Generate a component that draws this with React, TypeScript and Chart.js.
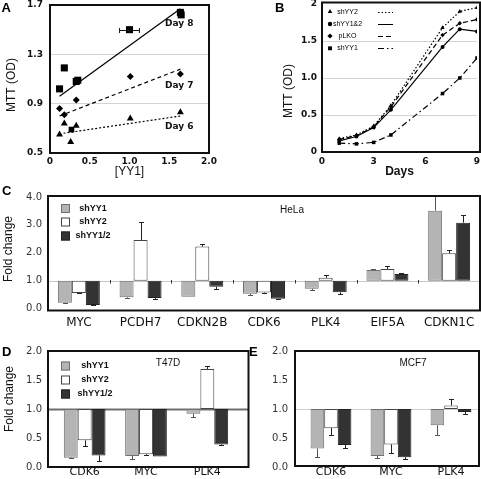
import React, { useEffect, useRef } from "react";
import { Chart, registerables } from "chart.js";
Chart.register(...registerables);

// ===== Panel A: MTT vs [YY1] =====
const aDay8X = [0.12, 0.18, 0.33, 0.35, 1.0, 1.64, 1.65];
const aDay8Y = [1.02, 1.19, 1.08, 1.09, 1.5, 1.64, 1.62];
const aDay8XErr = [0, 0, 0, 0, 0.125, 0, 0];
const aDay7X = [0.12, 0.18, 0.33, 1.01, 1.64];
const aDay7Y = [0.86, 0.81, 0.93, 1.12, 1.14];
const aDay6X = [0.12, 0.18, 0.26, 0.27, 0.33, 1.01, 1.64];
const aDay6Y = [0.65, 0.74, 0.59, 0.69, 0.72, 0.78, 0.83];
const aFitX = [0.12, 1.64];
const aFit8Y = [0.96, 1.67];
const aFit7Y = [0.8, 1.18];
const aFit6X = [0.17, 1.64];
const aFit6Y = [0.66, 0.8];
const aYTicks = [0.5, 0.9, 1.3, 1.7];
const aXTicks = [0, 0.5, 1.0, 1.5, 2.0];

// ===== Panel B: growth curves =====
const bDays = [1, 2, 3, 4, 7, 8, 9];
const bShYY2 = [0.18, 0.23, 0.35, 0.63, 1.68, 1.9, 1.95];
const bShYY12 = [0.15, 0.21, 0.33, 0.57, 1.42, 1.66, 1.63];
const bPLKO = [0.17, 0.22, 0.34, 0.61, 1.58, 1.74, 1.79];
const bShYY1 = [0.12, 0.11, 0.13, 0.23, 0.79, 1.0, 1.27];

// ===== Panel C: HeLa =====
const cGenes = ["MYC", "PCDH7", "CDKN2B", "CDK6", "PLK4", "EIF5A", "CDKN1C"];
const cShYY1 = [0.21, 0.4, 0.42, 0.53, 0.71, 1.38, 3.51];
const cShYY1Err = [0.02, 0.01, 0, 0.03, 0.04, 0.02, 0.6];
const cShYY2 = [0.56, 2.46, 2.22, 0.57, 1.1, 1.42, 1.98];
const cShYY2Err = [0.02, 0.64, 0.09, 0.02, 0.09, 0.09, 0.12];
const cShYY12 = [0.13, 0.38, 0.78, 0.35, 0.58, 1.24, 3.08];
const cShYY12Err = [0.02, 0.03, 0.08, 0.02, 0.07, 0.04, 0.26];

// ===== Panel D: T47D =====
const dGenes = ["CDK6", "MYC", "PLK4"];
const dShYY1 = [0.16, 0.19, 0.92];
const dShYY1Err = [0.01, 0.06, 0.05];
const dShYY2 = [0.46, 0.22, 1.69];
const dShYY2Err = [0.09, 0.02, 0.06];
const dShYY12 = [0.2, 0.18, 0.39];
const dShYY12Err = [0.1, 0, 0.01];

// ===== Panel E: MCF7 =====
const eGenes = ["CDK6", "MYC", "PLK4"];
const eShYY1 = [0.32, 0.19, 0.72];
const eShYY1Err = [0.14, 0.03, 0.17];
const eShYY2 = [0.67, 0.39, 1.06];
const eShYY2Err = [0.12, 0.15, 0.11];
const eShYY12 = [0.38, 0.17, 0.95];
const eShYY12Err = [0.05, 0.04, 0.03];

const pts = (xs: number[], ys: number[]) => xs.map((x, i) => ({ x, y: ys[i] }));

function drawMarker(ctx: CanvasRenderingContext2D, style: string, x: number, y: number, r: number) {
  ctx.beginPath();
  if (style === "triangle") {
    ctx.moveTo(x, y - r);
    ctx.lineTo(x + r * 0.87, y + r * 0.5);
    ctx.lineTo(x - r * 0.87, y + r * 0.5);
    ctx.closePath();
  } else if (style === "circle") {
    ctx.arc(x, y, r * 0.85, 0, Math.PI * 2);
  } else if (style === "rectRot") {
    ctx.moveTo(x, y - r);
    ctx.lineTo(x + r, y);
    ctx.lineTo(x, y + r);
    ctx.lineTo(x - r, y);
    ctx.closePath();
  } else {
    ctx.rect(x - r * 0.75, y - r * 0.75, r * 1.5, r * 1.5);
  }
  ctx.fill();
}

function frameOf(o: any, ca: any) {
  const f = o.frame || {};
  return {
    x0: ca.left + (f.l || 0),
    x1: ca.right + (f.r || 0),
    y0: ca.top + (f.t || 0),
    y1: ca.bottom + (f.b || 0),
  };
}

const decoPlugin = {
  id: "deco",
  beforeDatasetsDraw(chart: any, _a: any, o: any) {
    if (!o || !o.refLine) return;
    const { ctx, chartArea: ca } = chart;
    const f = frameOf(o, ca);
    const y = Math.round(chart.scales.y.getPixelForValue(o.refLine.value)) + 0.5;
    ctx.save();
    ctx.strokeStyle = o.refLine.color;
    ctx.lineWidth = o.refLine.width;
    ctx.beginPath();
    ctx.moveTo(f.x0, y);
    ctx.lineTo(f.x1, y);
    ctx.stroke();
    if (o.refLine.ticks) {
      const xs = chart.scales.x;
      const n = chart.data.labels.length;
      ctx.strokeStyle = "#333";
      ctx.lineWidth = 1;
      for (let i = 1; i < n; i++) {
        const x = Math.round((xs.getPixelForTick(i - 1) + xs.getPixelForTick(i)) / 2) + 0.5;
        ctx.beginPath();
        ctx.moveTo(x, y - 1.5);
        ctx.lineTo(x, y + 2);
        ctx.stroke();
      }
    }
    ctx.restore();
  },
  afterDatasetsDraw(chart: any, _a: any, o: any) {
    if (!o || !o.errors) return;
    const { ctx, chartArea: ca } = chart;
    const f = frameOf(o, ca);
    ctx.save();
    ctx.beginPath();
    ctx.rect(f.x0, f.y0, f.x1 - f.x0, f.y1 - f.y0);
    ctx.clip();
    chart.data.datasets.forEach((ds: any, di: number) => {
      const meta = chart.getDatasetMeta(di);
      ctx.strokeStyle = ds.errColor || "#222";
      ctx.lineWidth = 1;
      if (ds.errors) {
        const ys = chart.scales.y;
        meta.data.forEach((el: any, i: number) => {
          const v = ds.values[i];
          const e = ds.errors[i];
          if (!e) return;
          const x = Math.round(el.x) + 0.5;
          const y0 = ys.getPixelForValue(v);
          const y1 = Math.round(ys.getPixelForValue(v >= 1 ? v + e : v - e)) + 0.5;
          ctx.beginPath();
          ctx.moveTo(x, y0);
          ctx.lineTo(x, y1);
          ctx.moveTo(x - 2.5, y1);
          ctx.lineTo(x + 2.5, y1);
          ctx.stroke();
        });
      }
      if (ds.xErrors) {
        const xs = chart.scales.x;
        meta.data.forEach((el: any, i: number) => {
          const e = ds.xErrors[i];
          if (!e) return;
          const p = ds.data[i];
          const x0 = xs.getPixelForValue(p.x - e);
          const x1 = xs.getPixelForValue(p.x + e);
          const y = Math.round(el.y) + 0.5;
          ctx.beginPath();
          ctx.moveTo(x0, y);
          ctx.lineTo(x1, y);
          ctx.moveTo(x0, y - 2.5);
          ctx.lineTo(x0, y + 2.5);
          ctx.moveTo(x1, y - 2.5);
          ctx.lineTo(x1, y + 2.5);
          ctx.stroke();
        });
      }
    });
    ctx.restore();
  },
  afterDraw(chart: any, _a: any, o: any) {
    if (!o) return;
    const { ctx, chartArea: ca } = chart;
    ctx.save();
    if (o.frame) {
      const f = frameOf(o, ca);
      ctx.strokeStyle = "#111";
      ctx.lineWidth = 2;
      ctx.strokeRect(f.x0, f.y0, f.x1 - f.x0, f.y1 - f.y0);
    }
    if (o.vTitle) {
      const t = o.vTitle;
      ctx.save();
      ctx.translate(t.x, t.y);
      ctx.rotate(-Math.PI / 2);
      ctx.font = t.font;
      ctx.fillStyle = "#111";
      ctx.textAlign = "center";
      ctx.textBaseline = "middle";
      ctx.fillText(t.text, 0, 0);
      ctx.restore();
    }
    if (o.texts) {
      o.texts.forEach((t: any) => {
        ctx.font = t.font;
        ctx.fillStyle = "#111";
        ctx.textAlign = t.align || "left";
        ctx.textBaseline = "middle";
        ctx.fillText(t.text, t.x, t.y);
      });
    }
    if (o.boxLegend) {
      const L = o.boxLegend;
      chart.data.datasets.forEach((ds: any, i: number) => {
        const y = L.ys[i];
        ctx.fillStyle = ds.backgroundColor;
        ctx.fillRect(L.x, y - L.size / 2, L.size, L.size);
        ctx.strokeStyle = ds.borderColor;
        ctx.lineWidth = 1;
        ctx.strokeRect(L.x + 0.5, y - L.size / 2 + 0.5, L.size - 1, L.size - 1);
        ctx.fillStyle = "#111";
        ctx.font = L.font;
        ctx.textAlign = "center";
        ctx.textBaseline = "middle";
        ctx.fillText(ds.label, L.textX, y);
      });
    }
    if (o.lineLegend) {
      const L = o.lineLegend;
      chart.data.datasets.forEach((ds: any, i: number) => {
        const y = L.ys[i];
        ctx.fillStyle = "#000";
        drawMarker(ctx, ds.pointStyle, L.markerX, y, 2.6);
        ctx.font = L.font;
        ctx.textAlign = "center";
        ctx.textBaseline = "middle";
        ctx.fillText(ds.label, L.textX, y);
        ctx.strokeStyle = "#000";
        ctx.lineWidth = 1;
        ctx.setLineDash(ds.borderDash || []);
        ctx.beginPath();
        ctx.moveTo(L.lineX0, Math.round(y) + 0.5);
        ctx.lineTo(L.lineX1, Math.round(y) + 0.5);
        ctx.stroke();
        ctx.setLineDash([]);
      });
    }
    ctx.restore();
  },
};
Chart.register(decoPlugin as any);

const TICK_BOLD = { family: "DejaVu Sans", weight: "bold" as const, size: 9 };
const TICK_NORM = { family: "DejaVu Sans", size: 10 };
const TITLE_FONT = { family: "Liberation Sans", size: 12 };
const TITLE_CSS = "12px 'Liberation Sans'";
const GRAY = "#b4b4b4";
const WHITE = "#ffffff";
const DARK = "#333333";

const fmt1 = (v: any) => Number(v).toFixed(1);

const noPad = (s: any) => {
  s.paddingTop = 0;
  s.paddingBottom = 0;
  s.paddingLeft = 0;
  s.paddingRight = 0;
};
const fixH = (h: number) => (s: any) => {
  s.height = h;
  noPad(s);
};
const fixW = (w: number) => (s: any) => {
  s.width = w;
  noPad(s);
};

function makeA(): any {
  const base = { backgroundColor: "#000", borderColor: "#000", borderWidth: 0, errColor: "#111" };
  const fit = (xs: number[], ys: number[], dash: number[]) => ({
    type: "line",
    data: pts(xs, ys),
    showLine: true,
    pointRadius: 0,
    borderColor: "#000",
    borderWidth: 1.2,
    borderDash: dash,
    fill: false,
  });
  return {
    type: "scatter",
    data: {
      datasets: [
        { ...base, data: pts(aDay8X, aDay8Y), xErrors: aDay8XErr, pointStyle: "rect", pointRadius: 5 },
        { ...base, data: pts(aDay7X, aDay7Y), pointStyle: "rectRot", pointRadius: 3.5 },
        {
          ...base,
          data: pts(aDay6X, aDay6Y),
          pointStyle: ["triangle", "triangle", "triangle", "rect", "triangle", "triangle", "triangle"],
          pointRadius: 4,
        },
        fit(aFitX, aFit8Y, []),
        fit(aFitX, aFit7Y, [4, 3]),
        fit(aFit6X, aFit6Y, [2, 2]),
      ],
    },
    options: {
      responsive: false,
      animation: false,
      events: [],
      layout: { padding: { top: 3, right: 31, left: 0, bottom: 0 } },
      plugins: {
        legend: { display: false },
        tooltip: { enabled: false },
        deco: {
          frame: { l: 0, r: 0, t: 0, b: 0 },
          errors: true,
          vTitle: { text: "MTT (OD)", x: 12, y: 85, font: TITLE_CSS },
          texts: [
            { text: "Day 8", x: 165, y: 24, font: "bold 9px 'DejaVu Sans'" },
            { text: "Day 7", x: 165, y: 86, font: "bold 9px 'DejaVu Sans'" },
            { text: "Day 6", x: 165, y: 127, font: "bold 9px 'DejaVu Sans'" },
          ],
        },
      },
      scales: {
        x: {
          type: "linear",
          min: 0,
          max: 2,
          afterBuildTicks: (s: any) => {
            s.ticks = aXTicks.map((v) => ({ value: v }));
          },
          ticks: { font: TICK_BOLD, color: "#111", padding: 3, callback: (v: any) => (v === 0 ? "0" : fmt1(v)) },
          grid: { display: false, drawTicks: false },
          border: { display: false },
          title: { display: true, text: "[YY1]", font: TITLE_FONT, color: "#111", padding: { top: 0, bottom: 6 } },
          afterFit: fixH(32),
        },
        y: {
          min: 0.5,
          max: 1.7,
          afterBuildTicks: (s: any) => {
            s.ticks = aYTicks.map((v) => ({ value: v }));
          },
          ticks: { font: TICK_BOLD, color: "#111", padding: 7, callback: fmt1 },
          grid: {
            drawTicks: false,
            color: (c: any) => (c.tick && (c.tick.value === 0.9 || c.tick.value === 1.3) ? "#d4d4d4" : "rgba(0,0,0,0)"),
          },
          border: { display: false },
          afterFit: fixW(50),
        },
      },
    },
  };
}

function makeB(): any {
  const mk = (label: string, vals: number[], style: string, dash: number[], r: number) => ({
    label,
    data: pts(bDays, vals),
    pointStyle: style,
    pointRadius: r,
    backgroundColor: "#000",
    borderColor: "#000",
    pointBorderWidth: 0,
    borderWidth: 1.2,
    borderDash: dash,
    tension: 0,
    fill: false,
  });
  return {
    type: "line",
    data: {
      datasets: [
        mk("shYY2", bShYY2, "triangle", [1.5, 2], 2.5),
        mk("shYY1&2", bShYY12, "circle", [], 2),
        mk("pLKO", bPLKO, "rectRot", [5, 3], 2.2),
        mk("shYY1", bShYY1, "rect", [6, 3, 1.5, 3], 2.5),
      ],
    },
    options: {
      responsive: false,
      animation: false,
      events: [],
      layout: { padding: { top: 3, right: 4, left: 0, bottom: 0 } },
      plugins: {
        legend: { display: false },
        tooltip: { enabled: false },
        deco: {
          frame: { l: 0, r: 3, t: -1.5, b: 0 },
          vTitle: { text: "MTT (OD)", x: 49, y: 91, font: TITLE_CSS },
          lineLegend: {
            markerX: 90,
            textX: 107.5,
            lineX0: 138,
            lineX1: 153,
            ys: [11.7, 24, 36, 48.3],
            font: "7px 'Liberation Sans'",
          },
        },
      },
      scales: {
        x: {
          type: "linear",
          min: 0,
          max: 9,
          ticks: { stepSize: 3, font: TICK_BOLD, color: "#111", padding: 4 },
          grid: { display: false, drawTicks: false },
          border: { display: false },
          title: {
            display: true,
            text: "Days",
            font: { family: "Liberation Sans", size: 12, weight: "bold" },
            color: "#111",
            padding: { top: 0, bottom: 6 },
          },
          afterFit: fixH(33),
        },
        y: {
          min: 0,
          max: 2,
          ticks: {
            stepSize: 0.5,
            font: TICK_BOLD,
            color: "#111",
            padding: 5,
            callback: (v: any) => (v === 0 ? "0" : v === 2 ? "2" : fmt1(v)),
          },
          grid: {
            drawTicks: false,
            color: (c: any) =>
              c.tick && c.tick.value > 0.1 && c.tick.value < 1.9 ? "#d4d4d4" : "rgba(0,0,0,0)",
          },
          border: { display: false },
          afterFit: fixW(82),
        },
      },
    },
  };
}

function makeBars(p: any): any {
  const mk = (label: string, vals: number[], errs: number[], bg: string, bc: string, ec: string) => ({
    label,
    data: vals.map((v) => [1, v]),
    values: vals,
    errors: errs,
    backgroundColor: bg,
    borderColor: bc,
    borderWidth: 1,
    borderSkipped: false,
    errColor: ec,
    categoryPercentage: p.catPct,
    barPercentage: 1,
  });
  return {
    type: "bar",
    data: {
      labels: p.labels,
      datasets: [
        mk("shYY1", p.s1, p.e1, GRAY, "#707070", "#555"),
        mk("shYY2", p.s2, p.e2, WHITE, "#444", "#222"),
        mk("shYY1/2", p.s3, p.e3, DARK, "#222", "#222"),
      ],
    },
    options: {
      responsive: false,
      animation: false,
      events: [],
      layout: { padding: { top: p.padTop, right: p.padRight, left: 0, bottom: 0 } },
      plugins: {
        legend: { display: false },
        tooltip: { enabled: false },
        deco: {
          frame: p.frame,
          errors: true,
          refLine: p.refLine,
          texts: p.texts,
          boxLegend: p.boxLegend,
          vTitle: p.vTitle,
        },
      },
      scales: {
        x: {
          grid: { display: false, drawTicks: false },
          border: { display: false },
          ticks: {
            font: p.catFont,
            color: "#111",
            padding: p.catPad,
            autoSkip: false,
            maxRotation: 0,
          },
          afterFit: fixH(p.xh),
        },
        y: {
          min: 0,
          max: p.ymax,
          ticks: { stepSize: p.step, font: TICK_NORM, color: "#333", padding: p.yPad, callback: fmt1 },
          grid: { display: false, drawTicks: false },
          border: { display: false },
          afterFit: fixW(p.yw),
        },
      },
    },
  };
}

function makeC() {
  return makeBars({
    labels: cGenes,
    s1: cShYY1, e1: cShYY1Err,
    s2: cShYY2, e2: cShYY2Err,
    s3: cShYY12, e3: cShYY12Err,
    catPct: 0.68,
    padTop: 12,
    padRight: 1,
    xh: 26.5,
    yw: 48,
    ymax: 4,
    step: 1,
    yPad: 6,
    catFont: { family: "DejaVu Sans", size: 12 },
    catPad: 7,
    frame: { l: 0, r: 0, t: -1, b: 2 },
    refLine: { value: 1, color: "#c8c8c8", width: 1, ticks: true },
    vTitle: { text: "Fold change", x: 9, y: 64, font: TITLE_CSS },
    texts: [{ text: "HeLa", x: 292, y: 25, align: "center", font: "10px 'Liberation Sans'" }],
    boxLegend: { x: 61, size: 9, ys: [23.5, 37, 51], textX: 93, font: "bold 9px 'Liberation Sans'" },
  });
}

function makeD() {
  return makeBars({
    labels: dGenes,
    s1: dShYY1, e1: dShYY1Err,
    s2: dShYY2, e2: dShYY2Err,
    s3: dShYY12, e3: dShYY12Err,
    catPct: 0.68,
    padTop: 14,
    padRight: 12,
    xh: 12,
    yw: 54,
    ymax: 2,
    step: 0.5,
    yPad: 12,
    catFont: { family: "DejaVu Sans", size: 11, lineHeight: 1 },
    catPad: 0,
    frame: { l: -6, r: 10.5, t: 0, b: 0 },
    refLine: { value: 1, color: "#6e6e6e", width: 2 },
    vTitle: { text: "Fold change", x: 10, y: 62, font: TITLE_CSS },
    texts: [{ text: "T47D", x: 168, y: 26, align: "center", font: "10px 'Liberation Sans'" }],
    boxLegend: { x: 61, size: 9, ys: [29, 43, 57], textX: 95, font: "bold 9px 'Liberation Sans'" },
  });
}

function makeE() {
  return makeBars({
    labels: eGenes,
    s1: eShYY1, e1: eShYY1Err,
    s2: eShYY2, e2: eShYY2Err,
    s3: eShYY12, e3: eShYY12Err,
    catPct: 0.68,
    padTop: 14,
    padRight: 0,
    xh: 12,
    yw: 56,
    ymax: 2,
    step: 0.5,
    yPad: 13,
    catFont: { family: "DejaVu Sans", size: 11, lineHeight: 1 },
    catPad: 0,
    frame: { l: -6, r: -2, t: 0, b: -1 },
    refLine: { value: 1, color: "#cfcfcf", width: 1 },
    texts: [{ text: "MCF7", x: 168, y: 26, align: "center", font: "10px 'Liberation Sans'" }],
  });
}

function ChartBox(props: { left: number; top: number; width: number; height: number; make: () => any }) {
  const ref = useRef<HTMLCanvasElement | null>(null);
  useEffect(() => {
    if (!ref.current) return;
    const chart = new Chart(ref.current, props.make());
    return () => chart.destroy();
  }, []);
  return (
    <canvas
      ref={ref}
      width={props.width}
      height={props.height}
      style={{ position: "absolute", left: props.left, top: props.top, width: props.width, height: props.height }}
    />
  );
}

function Letter(props: { x: number; y: number; t: string }) {
  return (
    <div
      style={{
        position: "absolute",
        left: props.x,
        top: props.y,
        font: "bold 13px 'Liberation Sans', Arial, sans-serif",
        lineHeight: "13px",
        color: "#000",
      }}
    >
      {props.t}
    </div>
  );
}

export default function App() {
  return (
    <div
      style={{
        position: "absolute",
        left: 0,
        top: 0,
        width: 481,
        height: 479,
        overflow: "hidden",
        background: "#fff",
      }}
    >
      <ChartBox left={0} top={0} width={240} height={185} make={makeA} />
      <ChartBox left={240} top={0} width={241} height={185} make={makeB} />
      <ChartBox left={0} top={185} width={481} height={150} make={makeC} />
      <ChartBox left={0} top={337} width={250} height={142} make={makeD} />
      <ChartBox left={245} top={337} width={236} height={142} make={makeE} />
      <Letter x={1.5} y={1} t="A" />
      <Letter x={275} y={1} t="B" />
      <Letter x={2} y={183.5} t="C" />
      <Letter x={2} y={345} t="D" />
      <Letter x={249} y={345} t="E" />
    </div>
  );
}
